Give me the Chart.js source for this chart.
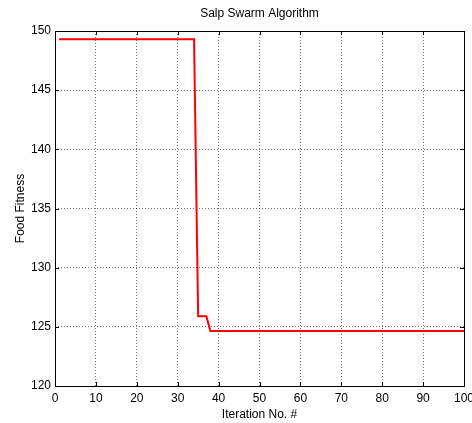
<!DOCTYPE html>
<html>
<head>
<meta charset="utf-8">
<script src="https://cdn.jsdelivr.net/npm/chart.js@4.4.1/dist/chart.umd.min.js"></script>
<style>
  html, body { margin: 0; padding: 0; background: #fff; }
  #wrap { width: 472px; height: 423px; }
</style>
</head>
<body>
<div id="wrap"><canvas id="ssa"></canvas></div>
<script>
// breakpoints of the convergence curve (iteration, best fitness)
const iterations = [1, 34, 35, 37, 38, 100];
const fitness = [149.3, 149.3, 125.9, 125.9, 124.65, 124.65];
const xTicks = [0, 10, 20, 30, 40, 50, 60, 70, 80, 90, 100];
const yTicks = [120, 125, 130, 135, 140, 145, 150];
const titleText = 'Salp Swarm Algorithm';

const FONT = 'Arial, "Liberation Sans", sans-serif';

// MATLAB-like box with inward tick marks on all four sides,
// title centred over the plot area rather than the canvas
const boxPlugin = {
  id: 'box',
  afterDraw(chart) {
    const { ctx, chartArea: a, scales: { x, y } } = chart;
    ctx.save();
    ctx.strokeStyle = '#000';
    ctx.lineWidth = 1;
    ctx.beginPath();
    xTicks.forEach(v => {
      const px = Math.round(x.getPixelForValue(v)) + 0.5;
      ctx.moveTo(px, a.bottom); ctx.lineTo(px, a.bottom - 4);
      ctx.moveTo(px, a.top); ctx.lineTo(px, a.top + 4);
    });
    yTicks.forEach(v => {
      const py = Math.round(y.getPixelForValue(v)) + 0.5;
      ctx.moveTo(a.left, py); ctx.lineTo(a.left + 4, py);
      ctx.moveTo(a.right, py); ctx.lineTo(a.right - 4, py);
    });
    ctx.stroke();
    ctx.strokeRect(Math.round(a.left) + 0.5, Math.round(a.top) + 0.5,
      Math.round(a.right - a.left), Math.round(a.bottom - a.top));

    ctx.fillStyle = '#000';
    ctx.font = '12px ' + FONT;
    ctx.textAlign = 'center';
    ctx.textBaseline = 'middle';
    ctx.fillText(titleText, (a.left + a.right) / 2, 13.5);
    ctx.restore();
  }
};

new Chart(document.getElementById('ssa'), {
  type: 'line',
  data: {
    datasets: [{
      data: iterations.map((it, i) => ({ x: it, y: fitness[i] })),
      borderColor: '#ff0000',
      borderWidth: 2,
      pointRadius: 0,
      fill: false,
      tension: 0
    }]
  },
  options: {
    responsive: true,
    maintainAspectRatio: false,
    animation: false,
    layout: { padding: { right: 8 } },
    plugins: {
      legend: { display: false },
      tooltip: { enabled: false },
      title: {
        // reserves the space; text itself is painted by boxPlugin
        display: true,
        text: titleText,
        color: 'rgba(0,0,0,0)',
        font: { family: FONT, size: 12, weight: 'normal', lineHeight: 1.2 },
        padding: { top: 6, bottom: 10.6 }
      }
    },
    scales: {
      x: {
        type: 'linear',
        min: 0, max: 100,
        afterFit(s) { s.height = 37; s.paddingLeft = 0; s.paddingRight = 0; },
        afterBuildTicks(s) { s.ticks = xTicks.map(v => ({ value: v })); },
        ticks: { color: '#000', padding: 5, font: { family: FONT, size: 12 } },
        grid: { color: 'rgba(0,0,0,0.55)', drawTicks: false, lineWidth: 1 },
        border: { display: false, dash: [1, 2] },
        title: {
          display: true, text: 'Iteration No. #', color: '#000',
          font: { family: FONT, size: 12, lineHeight: 1.2 }, padding: 1
        }
      },
      y: {
        min: 120, max: 150,
        afterFit(s) { s.width = 55; },
        afterBuildTicks(s) { s.ticks = yTicks.map(v => ({ value: v })); },
        ticks: { color: '#000', padding: 4, font: { family: FONT, size: 12 } },
        grid: { color: 'rgba(0,0,0,0.55)', drawTicks: false, lineWidth: 1 },
        border: { display: false, dash: [1, 2] },
        title: {
          display: true, text: 'Food Fitness', color: '#000',
          font: { family: FONT, size: 12, lineHeight: 1.2 }, padding: 13
        }
      }
    }
  },
  plugins: [boxPlugin]
});
</script>
</body>
</html>
